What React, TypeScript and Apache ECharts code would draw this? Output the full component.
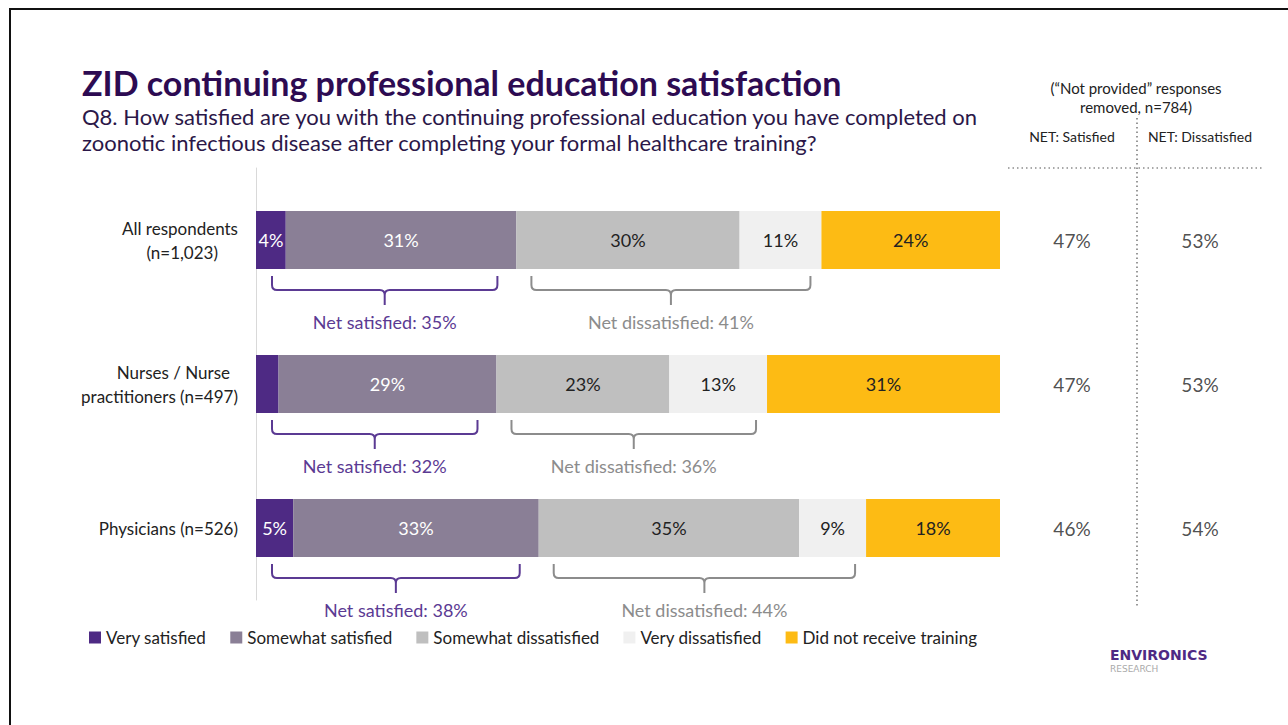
import React, { useEffect, useRef } from "react";
import * as echarts from "echarts";

const categories = ["All respondents\n(n=1,023)", "Nurses / Nurse\npractitioners (n=497)", "Physicians (n=526)"];
const seriesNames = ["Very satisfied", "Somewhat satisfied", "Somewhat dissatisfied", "Very dissatisfied", "Did not receive training"];
const verySatisfied = [4, 3, 5];
const somewhatSatisfied = [31, 29, 33];
const somewhatDissatisfied = [30, 23, 35];
const veryDissatisfied = [11, 13, 9];
const noTraining = [24, 31, 18];
const bracketSatisfied = [35, 32, 38];
const bracketDissatisfied = [41, 36, 44];
const netHeaders = ["NET: Satisfied", "NET: Dissatisfied"];
const netSatisfied = [47, 47, 46];
const netDissatisfied = [53, 53, 54];

const FONT = "Lato, 'Open Sans', sans-serif";
const colors = ["#4e2a84", "#8a7f96", "#bfbfbf", "#f0f0f0", "#fdbb14"];
const labelColors = ["#ffffff", "#ffffff", "#222222", "#222222", "#222222"];

export default function App() {
  const ref = useRef<HTMLDivElement>(null);
  useEffect(() => {
    if (!ref.current) return;
    const chart = echarts.init(ref.current, null, { renderer: "svg" });
    const raw = [verySatisfied, somewhatSatisfied, somewhatDissatisfied, veryDissatisfied, noTraining];
    const rowSums = categories.map((_, i) => raw.reduce((s, arr) => s + arr[i], 0));
    const norm = (v: number, i: number) => (v / rowSums[i]) * 100;

    const barSeries = raw.map((arr, si) => ({
      name: seriesNames[si],
      type: "bar",
      stack: "total",
      xAxisIndex: 0,
      yAxisIndex: 0,
      barWidth: 58,
      itemStyle: { color: colors[si] },
      label: {
        show: true,
        position: "inside",
        fontFamily: FONT,
        fontSize: 18,
        color: labelColors[si],
        formatter: (p: any) => (p.data.raw >= 4 ? p.data.raw + "%" : ""),
      },
      data: arr.map((v, i) => ({ value: norm(v, i), raw: v })),
    }));

    const cumSat = categories.map((_, i) => norm(verySatisfied[i] + somewhatSatisfied[i], i));
    const cumDis = categories.map((_, i) => norm(verySatisfied[i] + somewhatSatisfied[i] + somewhatDissatisfied[i] + veryDissatisfied[i], i));

    const makeBracket = (name: string, data: any[], color: string, insetL: number, insetR: number, prefix: string) => ({
      type: "custom",
      name,
      xAxisIndex: 0,
      yAxisIndex: 0,
      clip: false,
      silent: true,
      data,
      renderItem: (params: any, api: any) => {
        const s = api.value(0), e = api.value(1), row = api.value(2), lab = api.value(3);
        const a = api.coord([s, row]);
        const b = api.coord([e, row]);
        const x1 = a[0] + insetL, x2 = b[0] - insetR, cy = a[1];
        const top = cy + 36, mid = cy + 50, bot = cy + 65, r = 5, cx = (x1 + x2) / 2;
        const d = `M${x1} ${top} L${x1} ${mid - r} Q${x1} ${mid} ${x1 + r} ${mid} L${cx - r} ${mid} Q${cx} ${mid} ${cx} ${mid + r} L${cx} ${bot} M${cx} ${mid + r} Q${cx} ${mid} ${cx + r} ${mid} L${x2 - r} ${mid} Q${x2} ${mid} ${x2} ${mid - r} L${x2} ${top}`;
        return {
          type: "group",
          children: [
            { type: "path", shape: { pathData: d }, style: { fill: "none", stroke: color, lineWidth: 2 } },
            {
              type: "text",
              style: { text: `${prefix}: ${lab}%`, x: cx, y: cy + 82, align: "center", verticalAlign: "middle", fill: color, font: `18px ${FONT}` },
            },
          ],
        };
      },
    });

    const satData = categories.map((_, i) => [0, cumSat[i], i, bracketSatisfied[i]]);
    const disData = categories.map((_, i) => [cumSat[i], cumDis[i], i, bracketDissatisfied[i]]);

    const netSeries = [netSatisfied, netDissatisfied].map((arr, k) => ({
      type: "scatter",
      xAxisIndex: 1,
      yAxisIndex: 1,
      symbolSize: 1,
      itemStyle: { color: "rgba(0,0,0,0)" },
      silent: true,
      label: { show: true, position: "inside", fontFamily: FONT, fontSize: 19, color: "#222", formatter: (p: any) => p.value[2] + "%" },
      data: arr.map((v, i) => [k, i, v]),
    }));

    chart.setOption({
      animation: false,
      backgroundColor: "#ffffff",
      title: {
        text: "ZID continuing professional education satisfaction",
        subtext: "Q8. How satisfied are you with the continuing professional education you have completed on\nzoonotic infectious disease after completing your formal healthcare training?",
        left: 77,
        top: 60,
        itemGap: 4,
        textStyle: { fontFamily: FONT, fontSize: 34, fontWeight: "bold", color: "#2d0b52" },
        subtextStyle: { fontFamily: FONT, fontSize: 22, lineHeight: 26, color: "#2b1748" },
      },
      legend: {
        data: seriesNames,
        left: 84,
        top: 624,
        icon: "rect",
        itemWidth: 12,
        itemHeight: 12,
        itemGap: 24,
        selectedMode: false,
        textStyle: { fontFamily: FONT, fontSize: 17, color: "#222" },
      },
      grid: [
        { left: 256, width: 744, top: 168, height: 432 },
        { left: 1008, width: 256, top: 168, height: 432 },
      ],
      xAxis: [
        { type: "value", min: 0, max: 100, show: false, gridIndex: 0 },
        {
          type: "category",
          gridIndex: 1,
          data: netHeaders,
          position: "top",
          axisLine: { show: false },
          axisTick: { show: false },
          axisLabel: { interval: 0, fontFamily: FONT, fontSize: 14, color: "#222", margin: 25 },
          splitLine: { show: false },
        },
      ],
      yAxis: [
        {
          type: "category",
          gridIndex: 0,
          data: categories,
          inverse: true,
          axisLine: { show: true, lineStyle: { color: "#d9d9d9", width: 1 } },
          axisTick: { show: false },
          axisLabel: {
            margin: 18,
            fontFamily: FONT,
            fontSize: 17,
            color: "#222",
            lineHeight: 24,
            formatter: (v: string, idx: number) => {
              const lines = v.split("\n");
              if (lines.length === 1) return `{a|${v}}`;
              const pads = idx === 0 ? [0, 20] : [8, 0];
              return `{p${pads[0]}|${lines[0]}}\n{p${pads[1]}|${lines[1]}}`;
            },
            rich: {
              a: { fontFamily: FONT, fontSize: 17, color: "#222", lineHeight: 24 },
              p0: { fontFamily: FONT, fontSize: 17, color: "#222", lineHeight: 24 },
              p8: { fontFamily: FONT, fontSize: 17, color: "#222", lineHeight: 24, padding: [0, 8, 0, 0] },
              p20: { fontFamily: FONT, fontSize: 17, color: "#222", lineHeight: 24, padding: [0, 20, 0, 0] },
            },
          },
        },
        { type: "category", gridIndex: 1, data: categories, inverse: true, show: false },
      ],
      series: [
        ...barSeries,
        makeBracket("sat", satData, "#5b3a93", 16, 19, "Net satisfied"),
        makeBracket("dis", disData, "#8c8c8c", 15, 11, "Net dissatisfied"),
        ...netSeries,
      ],
      graphic: [
        { type: "line", shape: { x1: 9, y1: 9, x2: 1288, y2: 9 }, style: { stroke: "#111", lineWidth: 2 } },
        { type: "line", shape: { x1: 10, y1: 8, x2: 10, y2: 725 }, style: { stroke: "#111", lineWidth: 2 } },
        { type: "line", shape: { x1: 1137, y1: 118, x2: 1137, y2: 606 }, style: { stroke: "#555", lineWidth: 1.2, lineDash: [1.5, 3] } },
        { type: "line", shape: { x1: 1008, y1: 168, x2: 1264, y2: 168 }, style: { stroke: "#555", lineWidth: 1.2, lineDash: [1.5, 3] } },
        {
          type: "text",
          x: 1136,
          y: 97,
          style: { text: "(\u201cNot provided\u201d responses\nremoved, n=784)", align: "center", verticalAlign: "middle", font: `15px ${FONT}`, fill: "#222", lineHeight: 19 },
        },
        {
          type: "text",
          x: 1110,
          y: 648,
          style: { text: "ENVIRONICS", align: "left", verticalAlign: "top", font: `bold 14px 'DejaVu Sans', sans-serif`, fill: "#4e2a84" },
        },
        {
          type: "text",
          x: 1110,
          y: 664,
          style: { text: "RESEARCH", align: "left", verticalAlign: "top", font: `9px 'DejaVu Sans', sans-serif`, fill: "#aaaaaa" },
        },
      ],
    });
    return () => chart.dispose();
  }, []);
  return <div ref={ref} style={{ position: "fixed", left: 0, top: 0, width: 1288, height: 725, background: "#fff" }} />;
}
